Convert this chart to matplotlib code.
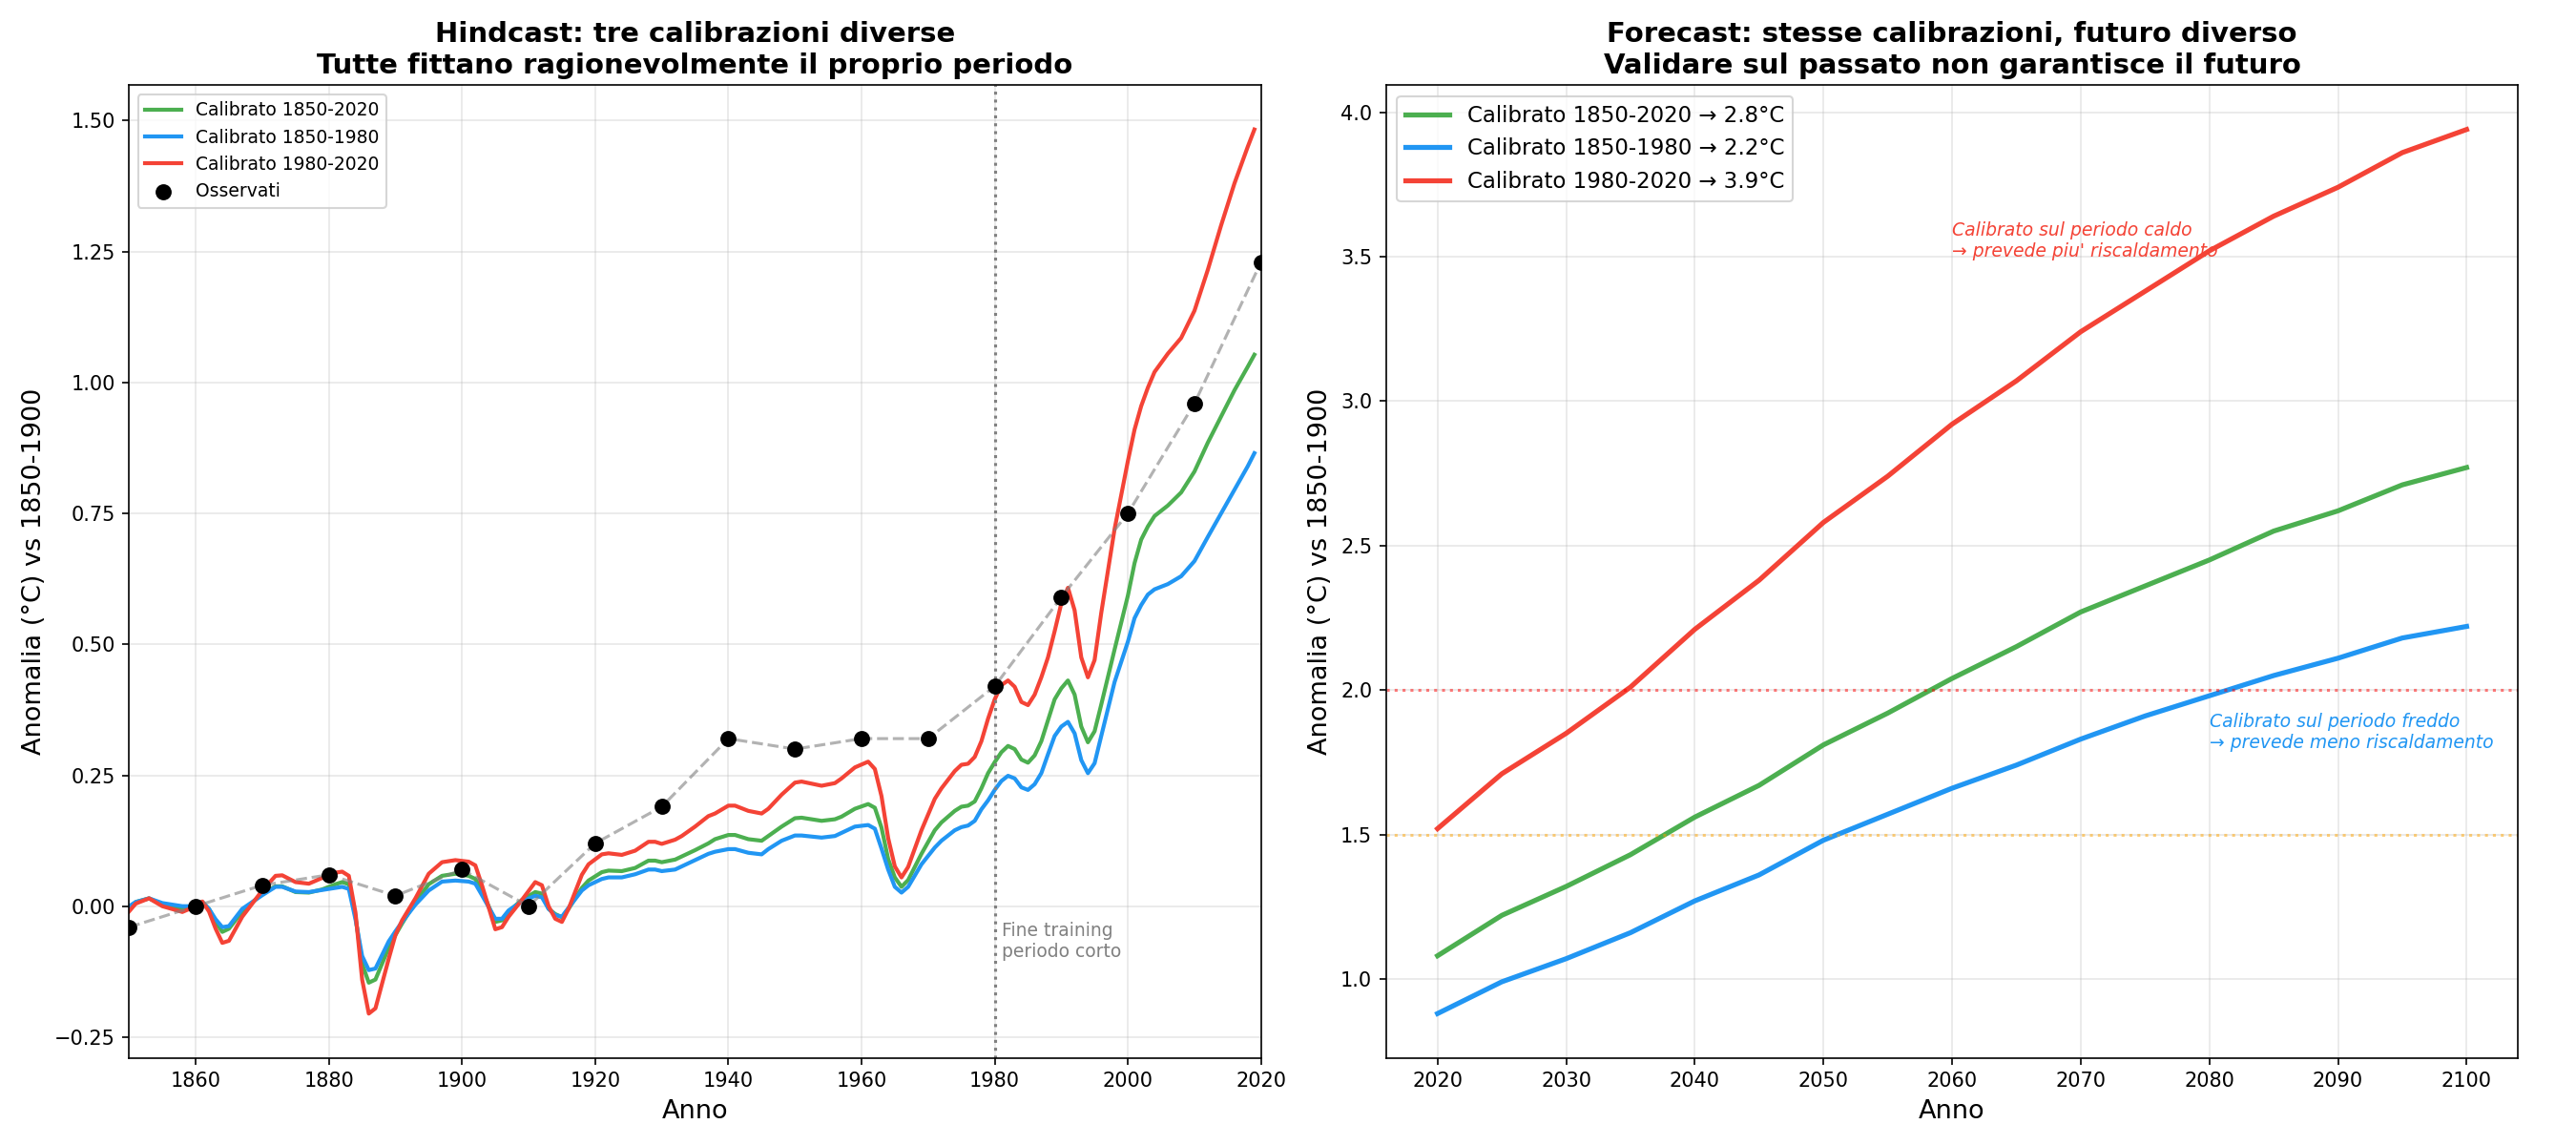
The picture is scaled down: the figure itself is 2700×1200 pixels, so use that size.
import matplotlib
matplotlib.use("Agg")
import matplotlib.pyplot as plt

# ---------------- Hindcast data ----------------
hind_years = [1850, 1851, 1853, 1855, 1858, 1860, 1861, 1862, 1863, 1864, 1865, 1867, 1870, 1872, 1873,
              1875, 1877, 1879, 1881, 1882, 1883, 1884, 1885, 1886, 1887, 1889, 1890, 1891, 1893, 1895,
              1897, 1899, 1901, 1902, 1903, 1905, 1906, 1907, 1909, 1911, 1912, 1913, 1914, 1915, 1916,
              1918, 1919, 1921, 1922, 1924, 1926, 1928, 1929, 1930, 1932, 1933, 1935, 1937, 1938, 1940,
              1941, 1943, 1945, 1946, 1948, 1950, 1951, 1954, 1956, 1957, 1959, 1961, 1962, 1963, 1964,
              1965, 1966, 1967, 1969, 1971, 1972, 1974, 1975, 1976, 1977, 1978, 1979, 1980, 1981, 1982,
              1983, 1984, 1985, 1986, 1987, 1988, 1989, 1990, 1991, 1992, 1993, 1994, 1995, 1996, 1998,
              2000, 2001, 2002, 2003, 2004, 2006, 2008, 2010, 2012, 2014, 2016, 2018, 2019]

hind_full = [-0.003, 0.008, 0.015, 0.003, -0.005, 0.0, 0.008, -0.005, -0.03, -0.049, -0.043, -0.01, 0.024, 0.038, 0.038,
             0.027, 0.026, 0.032, 0.042, 0.046, 0.042, -0.02, -0.11, -0.146, -0.14, -0.079, -0.055, -0.033, 0.008, 0.042,
             0.058, 0.062, 0.058, 0.052, 0.030, -0.030, -0.027, -0.01, 0.012, 0.027, 0.024, -0.005, -0.015, -0.021, -0.005,
             0.035, 0.049, 0.065, 0.068, 0.067, 0.073, 0.087, 0.087, 0.084, 0.089, 0.095, 0.107, 0.120, 0.128, 0.136,
             0.136, 0.128, 0.125, 0.134, 0.152, 0.168, 0.169, 0.163, 0.166, 0.171, 0.186, 0.195, 0.188, 0.15, 0.09,
             0.055, 0.037, 0.05, 0.10, 0.145, 0.16, 0.182, 0.19, 0.192, 0.20, 0.225, 0.254, 0.275, 0.294, 0.306,
             0.30, 0.28, 0.274, 0.288, 0.315, 0.355, 0.395, 0.416, 0.431, 0.404, 0.343, 0.313, 0.334, 0.385, 0.49,
             0.593, 0.655, 0.70, 0.725, 0.745, 0.765, 0.79, 0.83, 0.885, 0.935, 0.985, 1.03, 1.053]

hind_early = [0.0, 0.008, 0.015, 0.006, 0.0, 0.0, 0.008, -0.005, -0.025, -0.04, -0.038, -0.005, 0.021, 0.037, 0.037,
              0.028, 0.027, 0.031, 0.035, 0.037, 0.033, -0.025, -0.095, -0.122, -0.119, -0.067, -0.048, -0.03, 0.003, 0.030,
              0.047, 0.049, 0.047, 0.043, 0.021, -0.024, -0.024, -0.008, 0.009, 0.020, 0.017, -0.005, -0.017, -0.020, -0.003,
              0.030, 0.040, 0.052, 0.055, 0.055, 0.061, 0.070, 0.070, 0.067, 0.070, 0.076, 0.088, 0.100, 0.104, 0.109,
              0.109, 0.102, 0.099, 0.109, 0.125, 0.135, 0.135, 0.131, 0.134, 0.140, 0.152, 0.155, 0.148, 0.11, 0.07,
              0.037, 0.026, 0.037, 0.08, 0.112, 0.125, 0.145, 0.151, 0.154, 0.163, 0.185, 0.202, 0.222, 0.239, 0.249,
              0.244, 0.227, 0.222, 0.233, 0.254, 0.29, 0.325, 0.343, 0.352, 0.330, 0.279, 0.254, 0.273, 0.325, 0.428,
              0.505, 0.55, 0.575, 0.595, 0.605, 0.615, 0.63, 0.659, 0.705, 0.75, 0.795, 0.84, 0.865]

hind_late = [-0.01, 0.005, 0.015, 0.0, -0.011, 0.0, 0.009, -0.01, -0.043, -0.07, -0.066, -0.02, 0.03, 0.058, 0.059,
             0.046, 0.043, 0.054, 0.064, 0.066, 0.058, -0.012, -0.14, -0.205, -0.195, -0.10, -0.055, -0.027, 0.015, 0.062,
             0.084, 0.088, 0.085, 0.078, 0.04, -0.044, -0.04, -0.02, 0.012, 0.046, 0.04, 0.0, -0.024, -0.03, -0.005,
             0.06, 0.08, 0.099, 0.101, 0.098, 0.106, 0.123, 0.123, 0.119, 0.127, 0.134, 0.152, 0.172, 0.177, 0.192,
             0.192, 0.182, 0.177, 0.186, 0.213, 0.236, 0.238, 0.230, 0.235, 0.244, 0.265, 0.276, 0.262, 0.21, 0.13,
             0.076, 0.055, 0.075, 0.145, 0.205, 0.225, 0.258, 0.27, 0.272, 0.285, 0.315, 0.358, 0.395, 0.422, 0.431,
             0.419, 0.39, 0.384, 0.404, 0.437, 0.475, 0.525, 0.578, 0.608, 0.565, 0.475, 0.437, 0.47, 0.56, 0.72,
             0.85, 0.91, 0.955, 0.99, 1.02, 1.055, 1.085, 1.137, 1.215, 1.30, 1.38, 1.45, 1.483]

obs_years = [1850, 1860, 1870, 1880, 1890, 1900, 1910, 1920, 1930, 1940, 1950, 1960, 1970, 1980,
             1990, 2000, 2010, 2020]
obs_values = [-0.04, 0.0, 0.04, 0.06, 0.02, 0.07, 0.0, 0.12, 0.19, 0.32, 0.30, 0.32, 0.32, 0.42,
              0.59, 0.75, 0.96, 1.23]

# ---------------- Forecast data ----------------
fc_years = [2020, 2025, 2030, 2035, 2040, 2045, 2050, 2055, 2060, 2065, 2070, 2075, 2080, 2085, 2090, 2095, 2100]
fc_full = [1.08, 1.22, 1.32, 1.43, 1.56, 1.67, 1.81, 1.92, 2.04, 2.15, 2.27, 2.36, 2.45, 2.55, 2.62, 2.71, 2.77]
fc_early = [0.88, 0.99, 1.07, 1.16, 1.27, 1.36, 1.48, 1.57, 1.66, 1.74, 1.83, 1.91, 1.98, 2.05, 2.11, 2.18, 2.22]
fc_late = [1.52, 1.71, 1.85, 2.01, 2.21, 2.38, 2.58, 2.74, 2.92, 3.07, 3.24, 3.38, 3.52, 3.64, 3.74, 3.86, 3.94]

labels = ["Calibrato 1850-2020", "Calibrato 1850-1980", "Calibrato 1980-2020"]
fc_end = ["2.8", "2.2", "3.9"]

GREEN = "#4CAF50"
BLUE = "#2196F3"
RED = "#F44336"

fig, (ax1, ax2) = plt.subplots(1, 2, figsize=(18, 8), dpi=150)

# ---- Left: hindcast ----
ax1.plot(hind_years, hind_full, color=GREEN, lw=2, label=labels[0])
ax1.plot(hind_years, hind_early, color=BLUE, lw=2, label=labels[1])
ax1.plot(hind_years, hind_late, color=RED, lw=2, label=labels[2])
ax1.plot(obs_years, obs_values, color="gray", ls="--", lw=1.5, alpha=0.6, zorder=4)
ax1.scatter(obs_years, obs_values, color="black", s=50, zorder=5, label="Osservati")
ax1.axvline(1980, color="gray", ls=":", lw=1.5)
ax1.text(1981, -0.03, "Fine training\nperiodo corto", color="gray", fontsize=9, va="top")
ax1.set_xlim(1850, 2020)
ax1.set_xlabel("Anno", fontsize=13)
ax1.set_ylabel("Anomalia (°C) vs 1850-1900", fontsize=13)
ax1.set_title("Hindcast: tre calibrazioni diverse\nTutte fittano ragionevolmente il proprio periodo",
              fontsize=14, fontweight="bold")
ax1.legend(loc="upper left", fontsize=9)
ax1.grid(True, alpha=0.3)

# ---- Right: forecast ----
ax2.plot(fc_years, fc_full, color=GREEN, lw=2.5, label=f"{labels[0]} → {fc_end[0]}°C")
ax2.plot(fc_years, fc_early, color=BLUE, lw=2.5, label=f"{labels[1]} → {fc_end[1]}°C")
ax2.plot(fc_years, fc_late, color=RED, lw=2.5, label=f"{labels[2]} → {fc_end[2]}°C")
ax2.axhline(2.0, color="red", ls=":", lw=1.5, alpha=0.5)
ax2.axhline(1.5, color="orange", ls=":", lw=1.5, alpha=0.5)
ax2.text(2060, 3.5, "Calibrato sul periodo caldo\n→ prevede piu' riscaldamento",
         color=RED, fontsize=9, style="italic")
ax2.text(2080, 1.8, "Calibrato sul periodo freddo\n→ prevede meno riscaldamento",
         color=BLUE, fontsize=9, style="italic")
ax2.set_xlabel("Anno", fontsize=13)
ax2.set_ylabel("Anomalia (°C) vs 1850-1900", fontsize=13)
ax2.set_title("Forecast: stesse calibrazioni, futuro diverso\nValidare sul passato non garantisce il futuro",
              fontsize=14, fontweight="bold")
ax2.legend(loc="upper left", fontsize=11)
ax2.grid(True, alpha=0.3)

plt.tight_layout()
plt.savefig("out.png", dpi=150)
